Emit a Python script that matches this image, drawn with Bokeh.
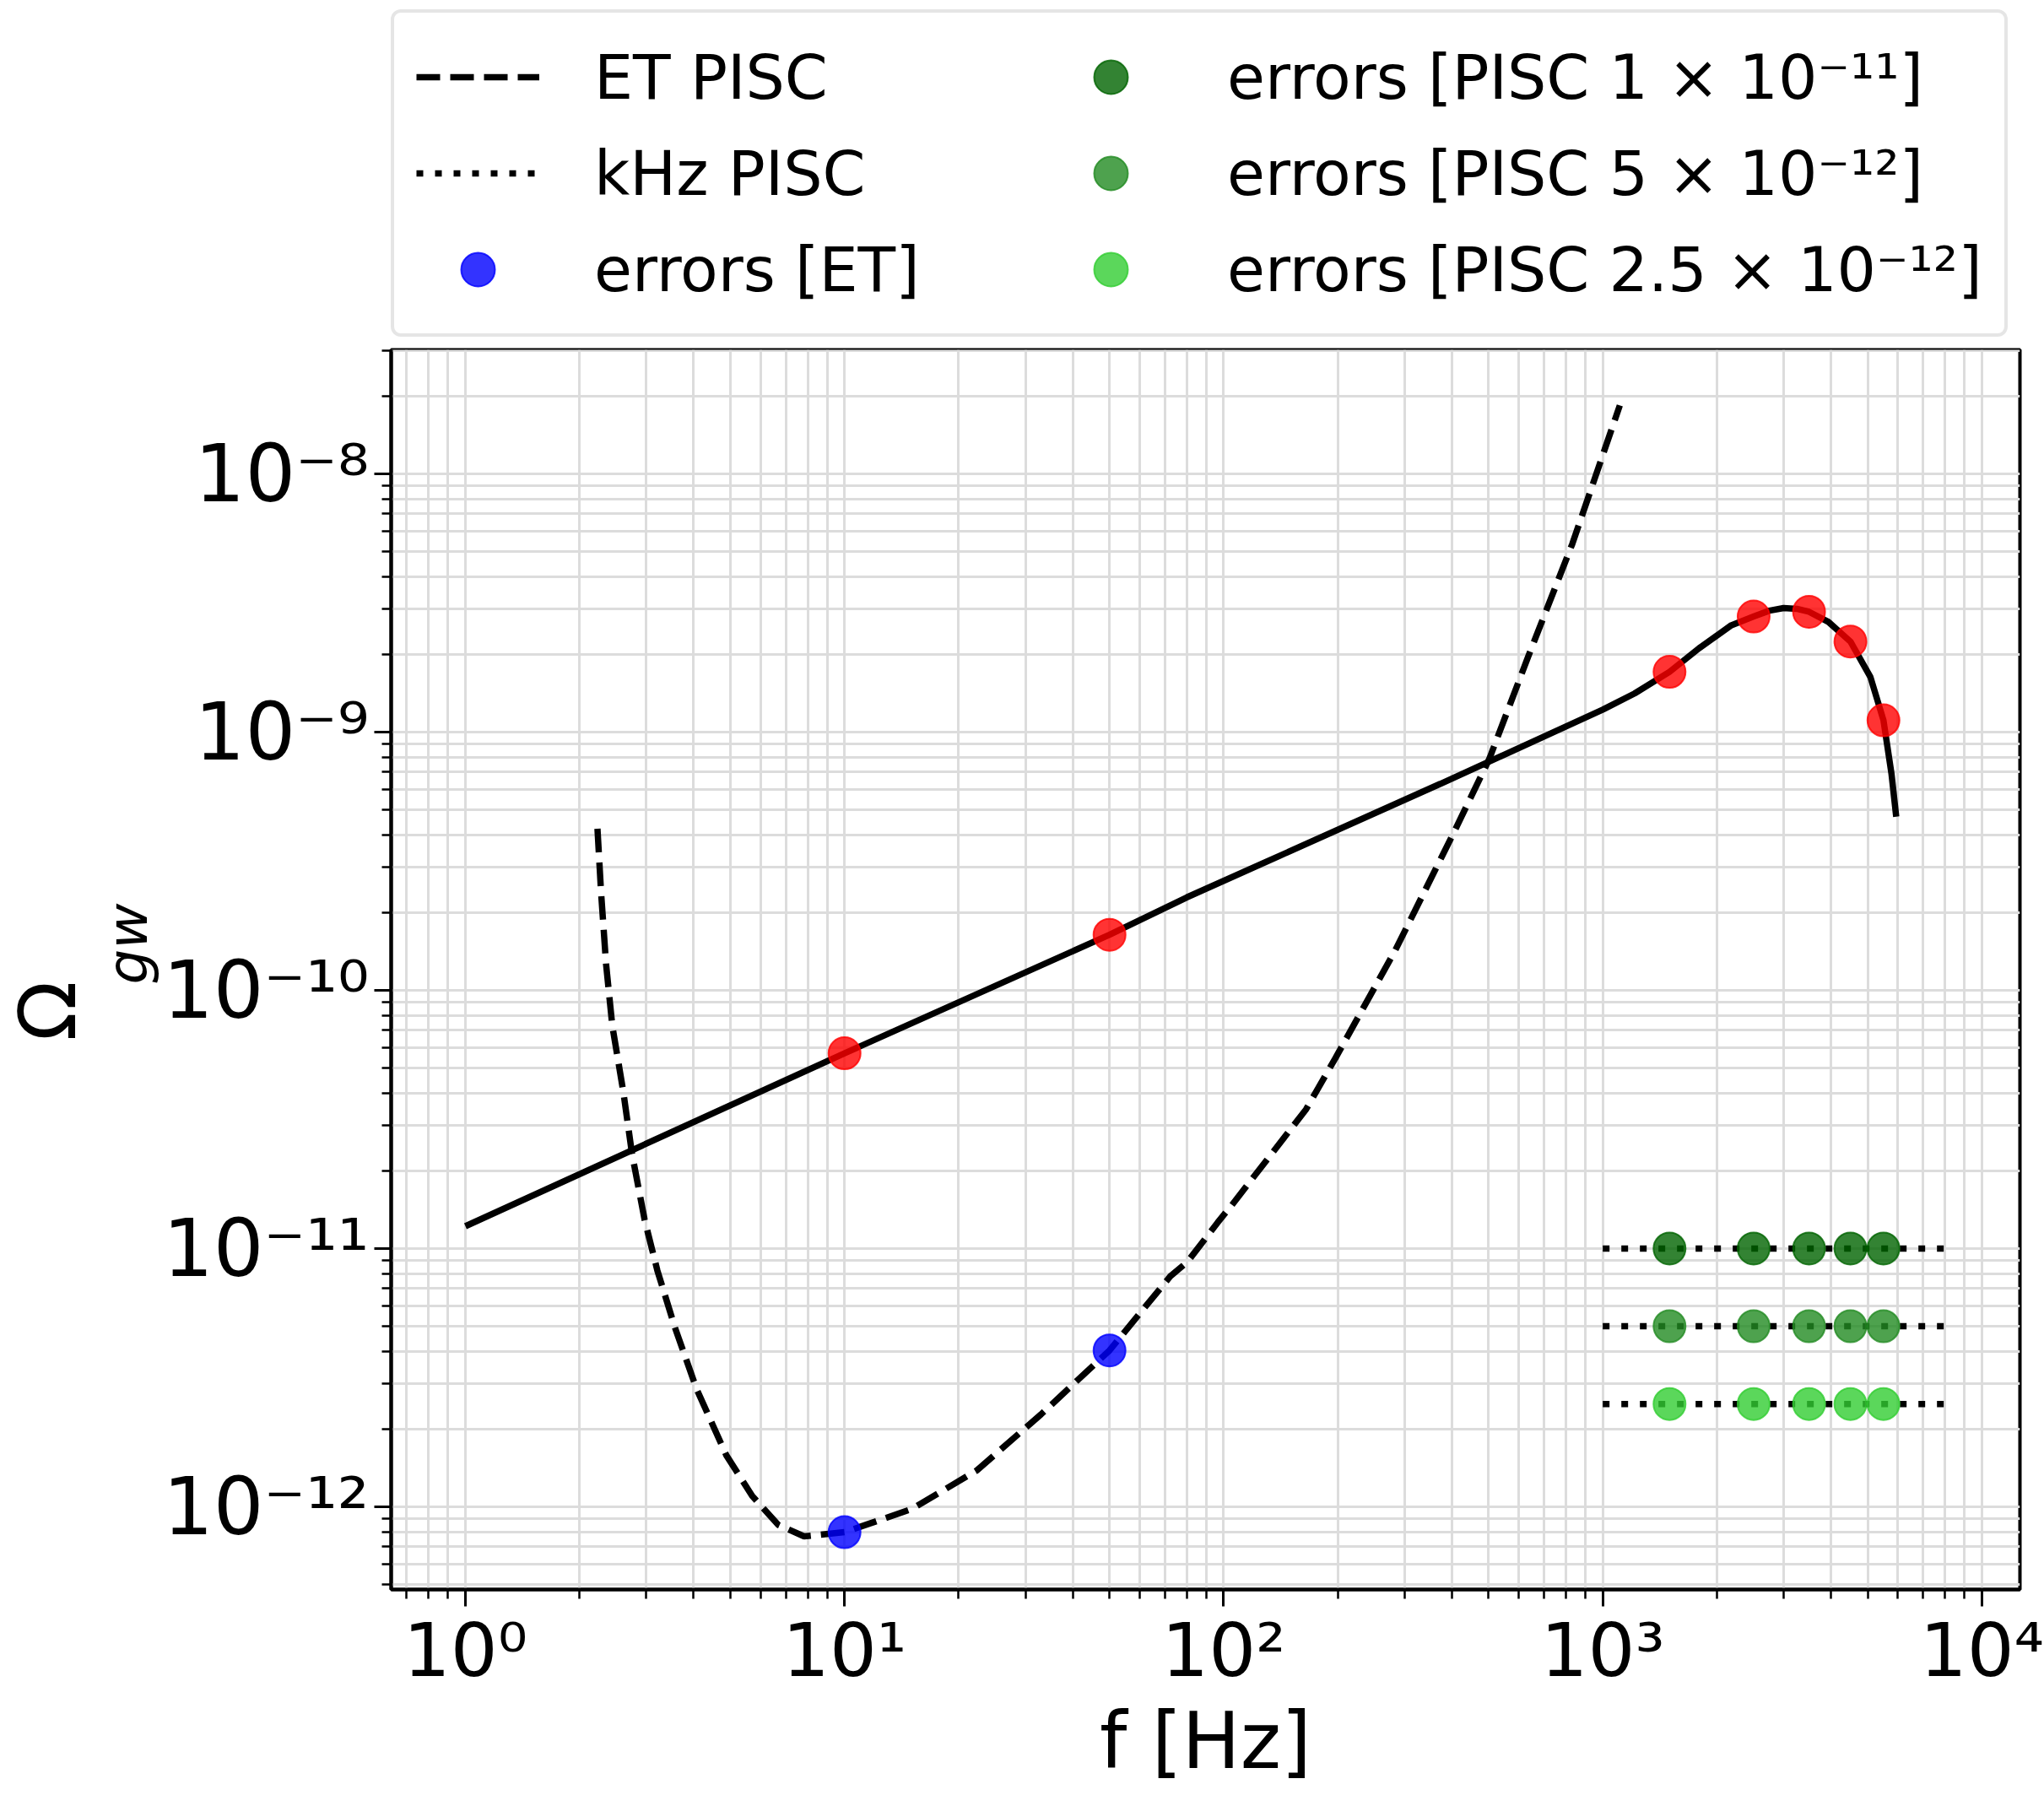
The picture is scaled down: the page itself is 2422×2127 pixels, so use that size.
from bokeh.plotting import figure
from bokeh.layouts import column
from bokeh.models import (Legend, LegendItem, FixedTicker, CustomJSTickFormatter,
                          Title, Range1d)
from bokeh.embed import file_html
from bokeh.resources import INLINE

# ---------------- data ----------------
# signal curve (solid black)
sig_f = [1, 10, 50, 80, 373, 1000, 1213, 1500, 1795, 2183, 2500, 2750, 3000,
         3250, 3500, 3935, 4500, 5083, 5500, 5774, 5943]
sig_omega = [1.22e-11, 5.7e-11, 1.64e-10, 2.29e-10, 6.3e-10, 1.22e-9, 1.41e-9,
             1.71e-9, 2.11e-9, 2.59e-9, 2.80e-9, 2.95e-9, 3.02e-9, 3.0e-9,
             2.92e-9, 2.67e-9, 2.24e-9, 1.63e-9, 1.11e-9, 6.9e-10, 4.7e-10]

# ET PISC (dashed)
et_f = [2.23, 2.28, 2.35, 2.44, 2.61, 2.75, 2.97, 3.21, 3.57, 4.07, 4.88, 5.71,
        6.69, 7.82, 10, 15.05, 22.3, 33.0, 50, 72.3, 80.2, 96.4, 105, 165, 197,
        283, 405, 502, 635, 831, 1109]
et_omega = [4.22e-10, 2.38e-10, 1.26e-10, 7.3e-11, 4.03e-11, 2.33e-11, 1.29e-11,
            8.2e-12, 4.94e-12, 2.86e-12, 1.58e-12, 1.10e-12, 8.5e-13, 7.68e-13,
            7.97e-13, 9.8e-13, 1.38e-12, 2.28e-12, 4.03e-12, 7.8e-12, 8.87e-12,
            1.26e-11, 1.47e-11, 3.46e-11, 5.45e-11, 1.42e-10, 4.09e-10, 7.87e-10,
            1.95e-9, 5.35e-9, 1.84e-8]

# kHz PISC (dotted) levels
khz_f = [1000, 8000]
khz_levels = [1e-11, 5e-12, 2.5e-12]
khz_labels = ["errors [PISC 1 × 10⁻¹¹]", "errors [PISC 5 × 10⁻¹²]",
              "errors [PISC 2.5 × 10⁻¹²]"]
khz_colors = ["#006400", "#228B22", "#32CD32"]

# error points
pisc_err_f = [1500, 2500, 3500, 4500, 5500]
et_err_f = [10, 50]
et_err_omega = [7.97e-13, 4.03e-12]
sig_err_f = [10, 50, 1500, 2500, 3500, 4500, 5500]
sig_err_omega = [5.7e-11, 1.64e-10, 1.71e-9, 2.80e-9, 2.92e-9, 2.24e-9, 1.11e-9]

FONT = "DejaVu Sans"
LW = 7.5
SZ = 38
ET_DASH = "28 12"
KHZ_DASH = "8 14"

# ---------------- main figure ----------------
p = figure(width=2422, frame_width=1930, frame_height=1469,
           x_axis_type="log", y_axis_type="log",
           x_range=Range1d(0.637, 12600), y_range=Range1d(4.78e-13, 3.02e-8),
           output_backend="svg", toolbar_location=None,
           min_border_left=457, min_border_right=35, min_border_top=10,
           min_border_bottom=244, background_fill_color="white",
           border_fill_color="white")

p.outline_line_color = "black"
p.outline_line_width = 4

x_major = [1, 10, 100, 1000, 10000]
x_minor = [m * 10.0 ** k for k in range(-1, 4) for m in range(2, 10)]
y_major = [10.0 ** k for k in range(-12, -7)]
y_minor = [m * 10.0 ** k for k in range(-13, -7) for m in range(2, 10)]
p.xaxis.ticker = FixedTicker(ticks=x_major, minor_ticks=x_minor)
p.yaxis.ticker = FixedTicker(ticks=y_major, minor_ticks=y_minor)

fmt_code = """
const sup = {"-":"\u207B","0":"\u2070","1":"\u00B9","2":"\u00B2","3":"\u00B3",
             "4":"\u2074","5":"\u2075","6":"\u2076","7":"\u2077","8":"\u2078","9":"\u2079"};
const e = Math.round(Math.log10(tick));
return "10" + String(e).split("").map(c => sup[c]).join("");
"""
for ax in (p.xaxis, p.yaxis):
    ax.formatter = CustomJSTickFormatter(code=fmt_code)
    ax.major_label_text_font = FONT
    ax.major_label_text_font_size = "94px"
    ax.major_label_text_color = "black"
    ax.axis_line_width = 4
    ax.axis_line_color = "black"
    ax.major_tick_out = 20
    ax.major_tick_in = 0
    ax.minor_tick_out = 11
    ax.minor_tick_in = 0
    ax.major_tick_line_width = 3
    ax.minor_tick_line_width = 2.5
    ax.major_tick_line_color = "black"
    ax.minor_tick_line_color = "black"

p.xaxis.major_label_text_font_size = "88px"
p.xaxis.major_label_standoff = 0
p.yaxis.major_label_standoff = 6
p.xaxis.axis_label = "f [Hz]"
p.xaxis.axis_label_text_font = FONT
p.xaxis.axis_label_text_font_size = "92px"
p.xaxis.axis_label_text_font_style = "normal"
p.xaxis.axis_label_text_color = "black"
p.xaxis.axis_label_standoff = 0

for g in (p.xgrid, p.ygrid):
    g.grid_line_color = "#dcdcdc"
    g.grid_line_width = 3
    g.minor_grid_line_color = "#dcdcdc"
    g.minor_grid_line_width = 3

# y-axis label  Omega_gw (as two side titles)
p.add_layout(Title(text="gw", align="left", offset=717, standoff=0,
                   text_font=FONT, text_font_style="italic",
                   text_font_size="66px", text_color="black",
                   text_line_height=0.55), "left")
p.add_layout(Title(text="Ω", align="left", offset=650, standoff=0,
                   text_font=FONT, text_font_style="normal",
                   text_font_size="93px", text_color="black",
                   text_line_height=0.7), "left")

# curves
p.line(sig_f, sig_omega, line_color="black", line_width=LW)
p.line(et_f, et_omega, line_color="black", line_width=LW, line_dash=ET_DASH)
for lvl in khz_levels:
    p.line(khz_f, [lvl, lvl], line_color="black", line_width=LW, line_dash=KHZ_DASH)

# points
p.scatter(sig_err_f, sig_err_omega, size=SZ, fill_color="red", fill_alpha=0.8,
          line_color="red", line_alpha=0.8, line_width=2)
p.scatter(et_err_f, et_err_omega, size=SZ, fill_color="blue",
          fill_alpha=0.8, line_color="blue", line_alpha=0.8, line_width=2)
for lvl, col in zip(khz_levels, khz_colors):
    p.scatter(pisc_err_f, [lvl] * len(pisc_err_f), size=SZ,
              fill_color=col, fill_alpha=0.8, line_color=col,
              line_alpha=0.8, line_width=2)

# ---------------- legend strip (above the plot) ----------------
# the legend's own renderers reuse the data but lie outside this strip's ranges
pl = figure(width=2422, height=404, output_backend="svg", toolbar_location=None,
            x_range=Range1d(-2, -1), y_range=Range1d(-2, -1),
            x_axis_location=None, y_axis_location=None,
            min_border_left=0, min_border_right=0, min_border_top=0,
            min_border_bottom=0, background_fill_color="white",
            border_fill_color="white", outline_line_color=None)
pl.grid.visible = False
lg_et = pl.line(et_f, et_omega, line_color="black", line_width=LW, line_dash=ET_DASH)
lg_khz = pl.line(khz_f, [khz_levels[0]] * 2, line_color="black", line_width=LW,
                 line_dash=KHZ_DASH)
lg_eterr = pl.scatter(et_err_f, et_err_omega, size=SZ, fill_color="blue",
                      fill_alpha=0.8, line_color="blue", line_alpha=0.8, line_width=2)
lg_pisc = [pl.scatter(pisc_err_f, [lvl] * len(pisc_err_f), size=SZ, fill_color=c,
                      fill_alpha=0.8, line_color=c, line_alpha=0.8, line_width=2)
           for lvl, c in zip(khz_levels, khz_colors)]

items = [LegendItem(label="ET PISC", renderers=[lg_et]),
         LegendItem(label=khz_labels[0], renderers=[lg_pisc[0]]),
         LegendItem(label="kHz PISC", renderers=[lg_khz]),
         LegendItem(label=khz_labels[1], renderers=[lg_pisc[1]]),
         LegendItem(label="errors [ET]", renderers=[lg_eterr]),
         LegendItem(label=khz_labels[2], renderers=[lg_pisc[2]])]

legend = Legend(items=items, orientation="horizontal", ncols=2,
                location=(0, 5),
                label_text_font=FONT, label_text_font_size="73px",
                label_text_color="black", label_standoff=65,
                glyph_width=146, glyph_height=100, label_width=525,
                spacing=14, padding=26, margin=0,
                border_line_color="#cccccc", border_line_width=4,
                background_fill_color="white", background_fill_alpha=0.8)
try:
    legend.border_radius = 12
except Exception:
    pass
pl.add_layout(legend, "center")

layout = column(pl, p, spacing=0)
open("out.html", "w").write(file_html(layout, INLINE))
